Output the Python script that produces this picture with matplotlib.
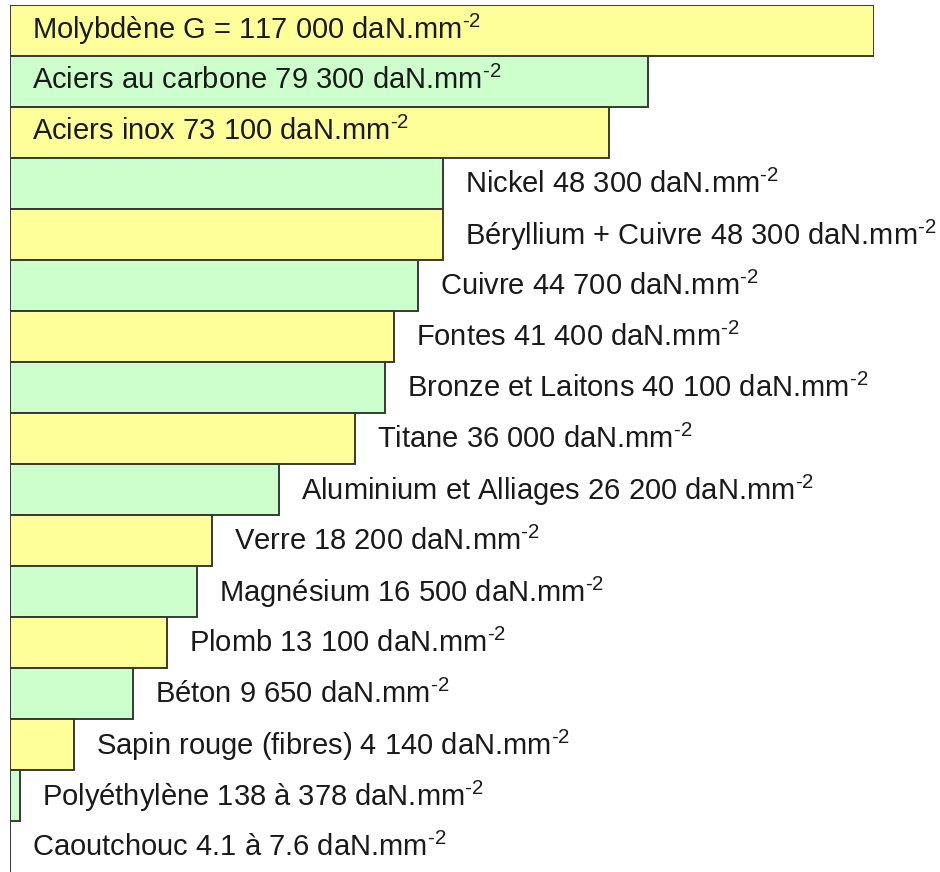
import numpy as np
import matplotlib
matplotlib.use("Agg")
import matplotlib.pyplot as plt

# Module d'élasticité transversale G de quelques matériaux (daN.mm-2)
materials = [
    "Molybdène G =", "Aciers au carbone", "Aciers inox", "Nickel",
    "Béryllium + Cuivre", "Cuivre", "Fontes", "Bronze et Laitons", "Titane",
    "Aluminium et Alliages", "Verre", "Magnésium", "Plomb", "Béton",
    "Sapin rouge (fibres)", "Polyéthylène", "Caoutchouc",
]
g_max = [117000, 79300, 73100, 48300, 48300, 44700, 41400, 40100, 36000,
         26200, 18200, 16500, 13100, 9650, 4140, 378, 7.6]
g_min = [None] * 15 + [138, 4.1]
labels_inside = 3  # the longest bars carry their label inside

colors = ["#FFFF99", "#CCFFCC"]
edge = "#383838"
text_color = "#1a1a1a"

plt.rcParams["font.family"] = ["Liberation Sans", "DejaVu Sans"]
plt.rcParams["mathtext.fontset"] = "custom"
plt.rcParams["mathtext.rm"] = "Liberation Sans"
plt.rcParams["mathtext.default"] = "regular"


def fmt(v):
    if v >= 1000:
        return f"{v:,.0f}".replace(",", " ")
    return f"{v:g}"


def label(i):
    if g_min[i] is None:
        val = fmt(g_max[i])
    else:
        val = f"{fmt(g_min[i])} à {fmt(g_max[i])}"
    return f"{materials[i]} {val} daN.mm$^{{\\text{{-2}}}}$"


W, H = 940, 872
fig = plt.figure(figsize=(W / 100, H / 100), dpi=100)
ax = fig.add_axes([10 / W, 0, (874 - 10) / W, (H - 5) / H])

# compressed (power) value axis so that the small moduli stay visible
p = 0.78
ax.set_xscale("function",
              functions=(lambda x: np.sign(x) * np.abs(x) ** p,
                         lambda x: np.sign(x) * np.abs(x) ** (1 / p)))

y = np.arange(len(materials))
ax.barh(y, g_max, height=1.0, left=0,
        color=[colors[i % 2] for i in y], edgecolor=edge, linewidth=1.4)

ax.set_xlim(0, max(g_max))
ax.set_ylim(len(materials) - 0.5, -0.5)
ax.axis("off")

fs = 21
for i in y:
    if i < labels_inside:
        ax.annotate(label(i), xy=(0, i), xytext=(22, 1),
                    textcoords="offset pixels", va="center", ha="left",
                    fontsize=fs, color=text_color, annotation_clip=False)
    else:
        ax.annotate(label(i), xy=(g_max[i], i), xytext=(22, -1),
                    textcoords="offset pixels", va="center", ha="left",
                    fontsize=fs, color=text_color, annotation_clip=False)

fig.savefig("out.png", dpi=100)
